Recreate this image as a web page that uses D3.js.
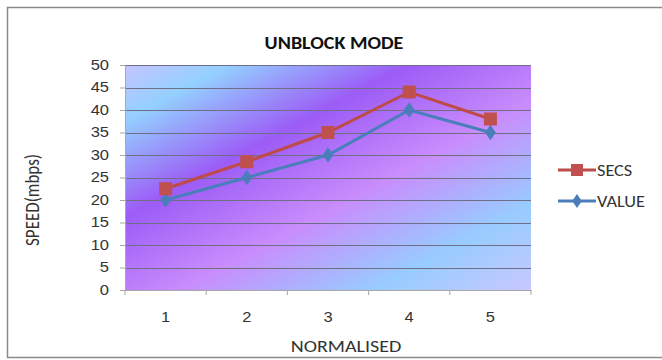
<!DOCTYPE html>
<html><head><meta charset="utf-8">
<script src="https://cdn.jsdelivr.net/npm/d3@7"></script>
<style>body{margin:0;background:#fff}svg{display:block;font-family:Calibri,Carlito,"Open Sans",sans-serif}</style>
</head><body><svg id="c" width="662" height="360"></svg>
<script>
const categories = ["1","2","3","4","5"];
const secs = [22.5, 28.5, 35, 44, 38];
const values = [20, 25, 30, 40, 35];
const yTicks = [0,5,10,15,20,25,30,35,40,45,50];
const seriesNames = ["SECS","VALUE"];

const SX = 1.18; // horizontal stretch of the reference's text
const svg = d3.select("#c");
const L = 125, R = 531, T = 65, B = 290;
const x = d3.scaleBand().domain(categories).range([L, R]);
const y = d3.scaleLinear().domain([0, 50]).range([B, T]);

function stext(px, py, str, size, anchor, weight) {
  return svg.append("text").attr("transform",`translate(${px},${py}) scale(${SX},1)`)
    .attr("text-anchor",anchor||"start").attr("font-size",size)
    .attr("font-weight",weight||"normal").attr("fill","#333").text(str);
}

// outer frame
svg.append("rect").attr("x",7.5).attr("y",7.5).attr("width",670).attr("height",350)
  .attr("fill","#fff").attr("stroke","#8a8a8a").attr("stroke-width",1.5);

// gradient background
const defs = svg.append("defs");
const ux = 0.472, uy = 0.881;
const t0 = 116, t1 = 506;
const g = defs.append("linearGradient").attr("id","bg").attr("gradientUnits","userSpaceOnUse")
  .attr("x1", ux*t0).attr("y1", uy*t0).attr("x2", ux*t1).attr("y2", uy*t1);
const stops = [[116,"#c6c4ff"],[165,"#94d0ff"],[250,"#9c5cf6"],[340,"#c98cfc"],[432,"#98ccff"],[506,"#c8c8ff"]];
stops.forEach(s => g.append("stop").attr("offset",(s[0]-t0)/(t1-t0)).attr("stop-color",s[1]));
svg.append("rect").attr("x",L).attr("y",T).attr("width",R-L).attr("height",B-T).attr("fill","url(#bg)");

// gridlines
svg.append("g").selectAll("line").data(yTicks.filter(d=>d>0)).join("line")
  .attr("x1",L).attr("x2",R).attr("y1",d=>Math.round(y(d))+0.5).attr("y2",d=>Math.round(y(d))+0.5)
  .attr("stroke","#6e6e86").attr("stroke-width",1);

// y axis
const ya = svg.append("g").attr("transform",`translate(${L},0)`)
  .call(d3.axisLeft(y).tickValues(yTicks).tickSize(5));
ya.select(".domain").attr("stroke","#a8a8a8");
ya.selectAll(".tick line").attr("stroke","#a8a8a8");
ya.selectAll("text").attr("font-size",14).attr("fill","#333")
  .attr("x",-16/SX).attr("transform",`scale(${SX},1)`);

// x axis
const xa = svg.append("g").attr("transform",`translate(0,${B})`)
  .call(d3.axisBottom(x).tickSize(0).tickPadding(22));
xa.select(".domain").attr("stroke","#a8a8a8");
xa.selectAll(".tick text").attr("font-size",14).attr("fill","#333")
  .attr("transform",`scale(${SX},1)`);
svg.append("g").selectAll("line").data(d3.range(categories.length+1)).join("line")
  .attr("x1",i=>L+i*x.step()).attr("x2",i=>L+i*x.step()).attr("y1",B).attr("y2",B+5)
  .attr("stroke","#a8a8a8");

// lines
const line = d3.line().x((d,i)=>x(categories[i])+x.bandwidth()/2).y(d=>y(d));
svg.append("path").datum(values).attr("d",line).attr("fill","none").attr("stroke","#4a7ebb").attr("stroke-width",3);
svg.append("path").datum(secs).attr("d",line).attr("fill","none").attr("stroke","#be4b48").attr("stroke-width",3);

svg.append("g").selectAll("path").data(values).join("path")
  .attr("d", d3.symbol().type(d3.symbolDiamond).size(70))
  .attr("transform",(d,i)=>`translate(${x(categories[i])+x.bandwidth()/2},${y(d)}) scale(1.2,1)`)
  .attr("fill","#4a7ebb");
svg.append("g").selectAll("rect").data(secs).join("rect")
  .attr("x",(d,i)=>x(categories[i])+x.bandwidth()/2-6.5).attr("y",d=>y(d)-6.5)
  .attr("width",13).attr("height",13).attr("fill","#c0504d");

// title
stext(334, 48.5, "UNBLOCK MODE", 17, "middle", "bold").attr("fill","#111");
// axis titles
stext(346, 352, "NORMALISED", 17, "middle");
svg.append("text").attr("transform",`translate(39,200) rotate(-90) scale(1,${SX})`).attr("text-anchor","middle")
  .attr("font-size",17).attr("fill","#333").text("SPEED(mbps)");

// legend
const items = [{n:seriesNames[0],c:"#be4b48",f:"#c0504d",s:"sq",y:170},{n:seriesNames[1],c:"#4a7ebb",f:"#4a7ebb",s:"di",y:201}];
items.forEach(it=>{
  svg.append("line").attr("x1",558).attr("x2",596).attr("y1",it.y).attr("y2",it.y).attr("stroke",it.c).attr("stroke-width",3);
  if(it.s==="sq") svg.append("rect").attr("x",571).attr("y",it.y-6).attr("width",12).attr("height",12).attr("fill",it.f);
  else svg.append("path").attr("d",d3.symbol().type(d3.symbolDiamond).size(55)).attr("transform",`translate(577,${it.y}) scale(1.2,1)`).attr("fill",it.f);
  stext(597, it.y+5.5, it.n, 15.5, "start");
});
</script></body></html>
